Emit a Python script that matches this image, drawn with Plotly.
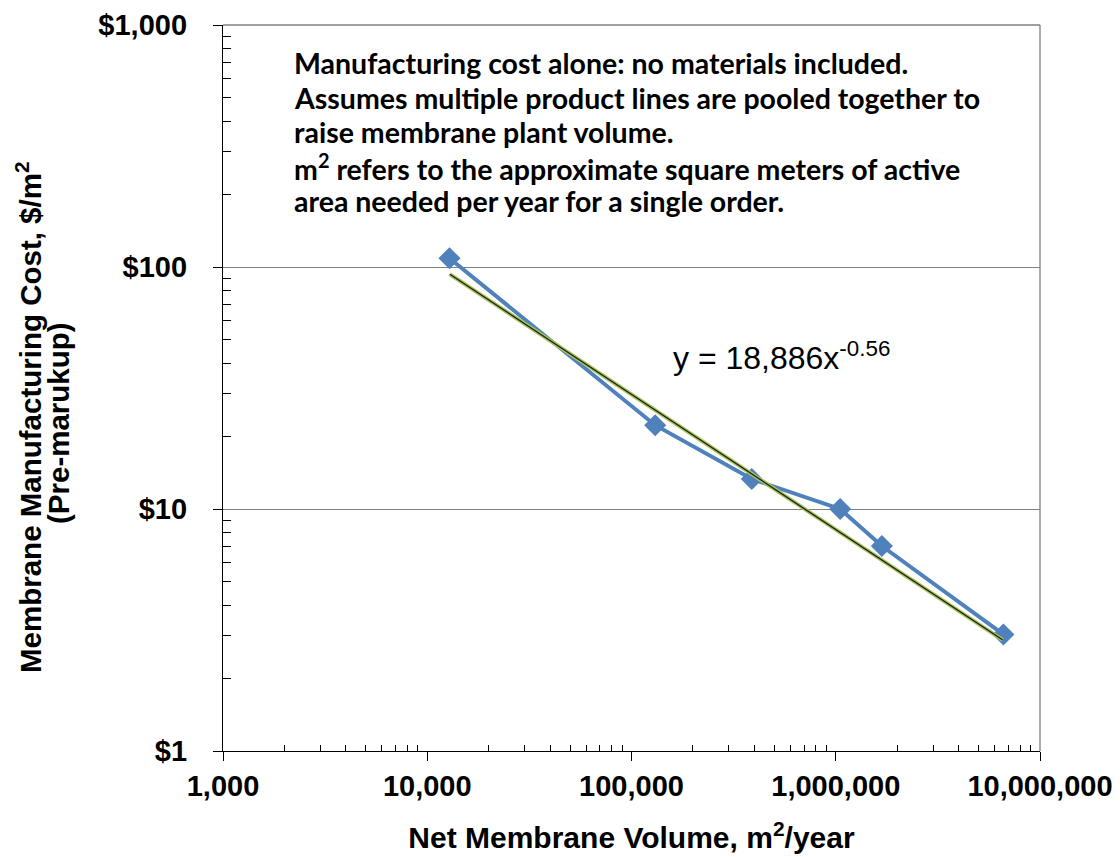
import plotly.graph_objects as go

# Data
volume = [12850, 130600, 388000, 1051000, 1682000, 6620000]
cost = [108.7, 22.2, 13.3, 10.0, 7.03, 3.03]
trend_x = [12900, 6550000]
trend_y = [93.3, 2.88]

x_tickvals = [1000, 10000, 100000, 1000000, 10000000]
x_ticktext = ["1,000", "10,000", "100,000", "1,000,000", "10,000,000"]
y_tickvals = [1, 10, 100, 1000]
y_ticktext = ["$1", "$10", "$100", "$1,000"]

note_lines = [
    "Manufacturing cost alone: no materials included.",
    "Assumes multiple product lines are pooled together to",
    "raise membrane plant volume.",
    "m<sup>2</sup> refers to the approximate square meters of active",
    "area needed per year for a single order.",
]
equation = "y = 18,886x<sup>-0.56</sup>"

# page body has an 8px margin; compensate so the plot lands where the reference has it
OFF = 8
W, H = 1112, 849
L, T = 223 - OFF, 25 - OFF
pw, ph = 817, 726
R = W - L - pw
B = H - T - ph

def px_x(p):
    return (p - OFF - L) / pw

def px_y(p):
    return (OFF + T + ph - p) / ph

minor_x = [m * 10 ** e for e in range(3, 7) for m in range(2, 10)]
minor_y = [m * 10 ** e for e in range(0, 3) for m in range(2, 10)]

fig = go.Figure()
fig.add_trace(go.Scatter(
    x=volume, y=cost, mode="lines+markers",
    line=dict(color="#4F81BD", width=4),
    marker=dict(symbol="diamond", size=17, color="#4F81BD"),
    showlegend=False,
))
fig.add_trace(go.Scatter(
    x=trend_x, y=trend_y, mode="lines",
    line=dict(color="#A8C65A", width=4), showlegend=False,
))
fig.add_trace(go.Scatter(
    x=trend_x, y=trend_y, mode="lines",
    line=dict(color="#1c1c1c", width=1.3), showlegend=False,
))

axis_font = dict(family="Liberation Sans, Arial", size=30, color="#000000")
ytitle_font = dict(family="Liberation Sans, Arial", size=29.5, color="#000000")
tick_font = dict(family="Liberation Sans, Arial", size=29, color="#000000", weight="bold")

fig.update_xaxes(
    type="log", range=[3, 7],
    tickvals=x_tickvals, ticktext=x_ticktext, tickfont=tick_font,
    ticks="outside", ticklen=9, tickwidth=1.3, tickcolor="#000000",
    showline=True, linecolor="#000000", linewidth=1.3,
    showgrid=False, zeroline=False,
    minor=dict(tickvals=minor_x, ticks="inside", ticklen=6, tickwidth=1.3, tickcolor="#000000", showgrid=False),
    title=dict(text="<b>Net Membrane Volume, m<sup>2</sup>/year</b>", font=axis_font, standoff=26),
)
fig.update_yaxes(
    type="log", range=[0, 3],
    tickvals=y_tickvals, ticktext=y_ticktext, tickfont=tick_font,
    ticks="outside", ticklen=9, tickwidth=1.3, tickcolor="#000000",
    ticklabelstandoff=20,
    showline=True, linecolor="#000000", linewidth=1.3,
    showgrid=True, gridcolor="#808080", gridwidth=1.3, zeroline=False,
    minor=dict(tickvals=minor_y, ticks="inside", ticklen=8, tickwidth=1.3, tickcolor="#000000", showgrid=False),
)

# top and right frame lines (gray)
fig.add_shape(type="line", xref="x domain", yref="y domain", x0=0, x1=1, y0=1, y1=1,
              line=dict(color="#808080", width=1.3))
fig.add_shape(type="line", xref="x domain", yref="y domain", x0=1, x1=1, y0=0, y1=1,
              line=dict(color="#808080", width=1.3))

annotations = []
annotations.append(dict(
    text="<b>Membrane Manufacturing Cost, $/m<sup>2</sup></b>", textangle=-90,
    xref="paper", yref="paper", x=px_x(28), y=px_y(418), xanchor="center", yanchor="middle",
    showarrow=False, font=ytitle_font,
))
annotations.append(dict(
    text="<b>(Pre-marukup)</b>", textangle=-90,
    xref="paper", yref="paper", x=px_x(58), y=px_y(423), xanchor="center", yanchor="middle",
    showarrow=False, font=ytitle_font,
))
note_centers = [63, 98, 132, 167, 201]
for line, yc in zip(note_lines, note_centers):
    annotations.append(dict(
        text="<b>" + line + "</b>", xref="paper", yref="paper",
        x=px_x(292), y=px_y(yc), xanchor="left", yanchor="middle", align="left",
        showarrow=False, font=dict(family="Lato", size=28.5, color="#000000"),
    ))
annotations.append(dict(
    text=equation, xref="paper", yref="paper",
    x=px_x(671), y=px_y(356), xanchor="left", yanchor="middle",
    showarrow=False, font=dict(family="Liberation Sans, Arial", size=32, color="#000000"),
))

fig.update_layout(
    width=W, height=H,
    margin=dict(l=L, r=R, t=T, b=B, autoexpand=False),
    paper_bgcolor="#ffffff", plot_bgcolor="#ffffff",
    annotations=annotations,
    showlegend=False,
)

fig.write_html("out.html")
